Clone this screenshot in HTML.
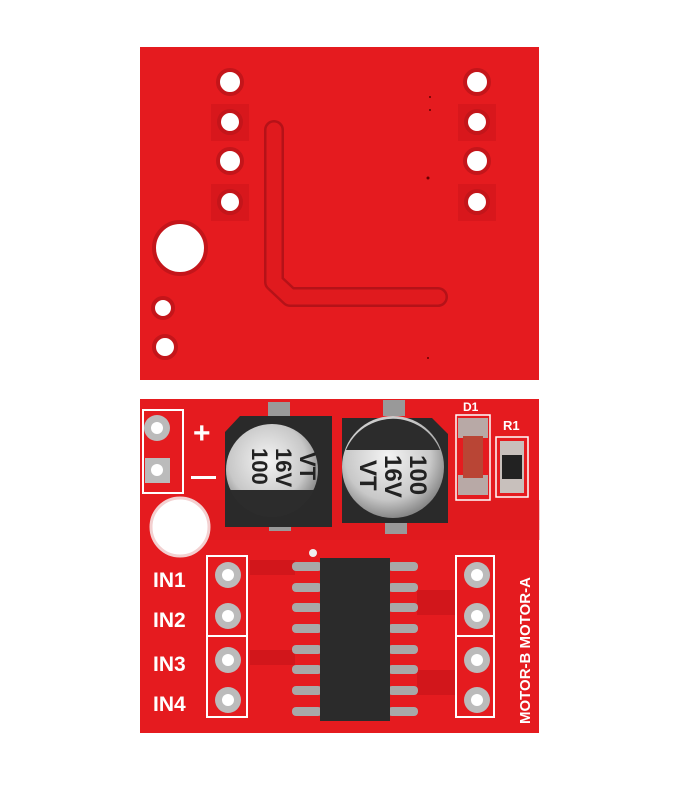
<!DOCTYPE html>
<html><head><meta charset="utf-8"><style>
html,body{margin:0;padding:0;background:#fff;width:700px;height:800px;overflow:hidden}
svg{display:block}
text{font-family:"Liberation Sans",sans-serif;font-weight:bold}
</style></head><body>
<svg width="700" height="800" viewBox="0 0 700 800" xmlns="http://www.w3.org/2000/svg">
<defs>
<radialGradient id="capg" cx="0.45" cy="0.4" r="0.6">
<stop offset="0" stop-color="#f4f4f4"/><stop offset="0.7" stop-color="#c8c8c8"/><stop offset="1" stop-color="#888"/>
</radialGradient>
</defs>
<!-- TOP BOARD -->
<rect x="140" y="47" width="399" height="333" fill="#e51b1f"/>
<g fill="#d8171c">
<rect x="211" y="104" width="38" height="37"/><rect x="211" y="184" width="38" height="37"/>
<rect x="458" y="104" width="38" height="37"/><rect x="458" y="184" width="38" height="37"/>
</g>
<g fill="#fff" stroke="#c4151a" stroke-width="4">
<circle cx="230" cy="82" r="12"/>
<circle cx="230" cy="122" r="11"/><circle cx="230" cy="161" r="12"/><circle cx="230" cy="202" r="11"/>
<circle cx="477" cy="82" r="12"/><circle cx="477" cy="122" r="11"/><circle cx="477" cy="161" r="12"/><circle cx="477" cy="202" r="11"/>
<circle cx="180" cy="248" r="26"/><circle cx="163" cy="308" r="10"/><circle cx="165" cy="347" r="11"/>
</g>
<path d="M274 130 L274 282 L290 297 L438 297" fill="none" stroke="#b51218" stroke-width="20" stroke-linecap="round" stroke-linejoin="round"/>
<path d="M274 130 L274 282 L290 297 L438 297" fill="none" stroke="#e01a1e" stroke-width="15" stroke-linecap="round" stroke-linejoin="round"/>
<g fill="#600"><circle cx="428" cy="178" r="1.5"/><circle cx="430" cy="97" r="1"/><circle cx="430" cy="110" r="1"/><circle cx="428" cy="358" r="1"/></g>

<!-- BOTTOM BOARD -->
<rect x="140" y="399" width="399" height="334" fill="#e51b1f"/>
<g fill="#d2161b">
<path d="M183 500 L540 500 L540 540 L183 540 Z" opacity="0.25"/>
<rect x="250" y="560" width="45" height="15"/><rect x="250" y="650" width="45" height="15"/>
<rect x="417" y="590" width="40" height="25"/><rect x="417" y="670" width="40" height="25"/>
</g>
<!-- +/- header -->
<rect x="143" y="410" width="40" height="83" fill="none" stroke="#fff" stroke-width="2"/>
<circle cx="157" cy="428" r="13" fill="#bbb"/><circle cx="157" cy="428" r="6" fill="#fff"/>
<rect x="145" y="458" width="25" height="25" fill="#bbb"/><circle cx="157" cy="470" r="6" fill="#fff"/>
<text x="193" y="443" font-size="30" fill="#fff" font-weight="normal">+</text>
<rect x="191" y="476" width="25" height="3" fill="#fff"/>
<!-- Cap1 -->
<rect x="268" y="402" width="22" height="16" fill="#999"/>
<rect x="269" y="517" width="22" height="14" fill="#999"/>
<path d="M240 416 L332 416 L332 527 L225 527 L225 432 Z" fill="#2a2a2a"/>
<circle cx="272" cy="470" r="46" fill="url(#capg)"/>
<path d="M230 490 A46 46 0 0 0 314 490 Z" fill="#2c2c2c"/>
<text transform="translate(300,452) rotate(90)" font-size="22" fill="#222" font-weight="normal">VT</text>
<text transform="translate(276,448) rotate(90)" font-size="22" fill="#222" font-weight="normal">16V</text>
<text transform="translate(252,448) rotate(90)" font-size="22" fill="#222" font-weight="normal">100</text>
<!-- Cap2 -->
<rect x="383" y="400" width="22" height="16" fill="#999"/>
<rect x="385" y="520" width="22" height="14" fill="#999"/>
<path d="M342 418 L432 418 L448 434 L448 523 L342 523 Z" fill="#2a2a2a"/>
<circle cx="393" cy="467" r="51" fill="url(#capg)"/>
<path d="M346 450 A51 51 0 0 1 440 450 Z" fill="#2c2c2c"/>
<text transform="translate(410,455) rotate(90)" font-size="24" fill="#222" font-weight="normal">100</text>
<text transform="translate(385,455) rotate(90)" font-size="24" fill="#222" font-weight="normal">16V</text>
<text transform="translate(360,460) rotate(90)" font-size="24" fill="#222" font-weight="normal">VT</text>
<!-- D1 -->
<text x="463" y="411" font-size="12" fill="#fff" font-weight="normal">D1</text>
<rect x="456" y="415" width="34" height="85" fill="none" stroke="#fff" stroke-width="1.5"/>
<rect x="458" y="418" width="30" height="20" fill="#b8a9a6"/>
<rect x="458" y="475" width="30" height="20" fill="#b8a9a6"/>
<rect x="463" y="436" width="20" height="42" fill="#b94535"/>
<!-- R1 -->
<text x="503" y="430" font-size="13" fill="#fff" font-weight="normal">R1</text>
<rect x="496" y="437" width="32" height="60" fill="none" stroke="#fff" stroke-width="1.5"/>
<rect x="500" y="441" width="24" height="52" fill="#c8c0bc"/>
<rect x="502" y="455" width="20" height="24" fill="#222"/>
<!-- big hole -->
<circle cx="180" cy="527" r="29" fill="#fff" stroke="#f3d0d0" stroke-width="3"/>
<!-- IN header -->
<rect x="207" y="556" width="40" height="161" fill="none" stroke="#fff" stroke-width="2"/>
<line x1="207" y1="636" x2="247" y2="636" stroke="#fff" stroke-width="2"/>
<g fill="#bbb"><circle cx="228" cy="575" r="13"/><circle cx="228" cy="616" r="13"/><circle cx="228" cy="660" r="13"/><circle cx="228" cy="700" r="13"/></g>
<g fill="#fff"><circle cx="228" cy="575" r="6"/><circle cx="228" cy="616" r="6"/><circle cx="228" cy="660" r="6"/><circle cx="228" cy="700" r="6"/></g>
<g font-size="21" fill="#fff">
<text x="153" y="587">IN1</text><text x="153" y="627">IN2</text><text x="153" y="671">IN3</text><text x="153" y="711">IN4</text>
</g>
<!-- IC -->
<circle cx="313" cy="553" r="4" fill="#eee"/>
<g fill="#a8a8a8">
<rect x="292" y="562" width="30" height="9" rx="4"/><rect x="292" y="583" width="30" height="9" rx="4"/>
<rect x="292" y="603" width="30" height="9" rx="4"/><rect x="292" y="624" width="30" height="9" rx="4"/>
<rect x="292" y="645" width="30" height="9" rx="4"/><rect x="292" y="665" width="30" height="9" rx="4"/>
<rect x="292" y="686" width="30" height="9" rx="4"/><rect x="292" y="707" width="30" height="9" rx="4"/>
<rect x="388" y="562" width="30" height="9" rx="4"/><rect x="388" y="583" width="30" height="9" rx="4"/>
<rect x="388" y="603" width="30" height="9" rx="4"/><rect x="388" y="624" width="30" height="9" rx="4"/>
<rect x="388" y="645" width="30" height="9" rx="4"/><rect x="388" y="665" width="30" height="9" rx="4"/>
<rect x="388" y="686" width="30" height="9" rx="4"/><rect x="388" y="707" width="30" height="9" rx="4"/>
</g>
<rect x="320" y="558" width="70" height="163" fill="#2b2b2b"/>
<!-- MOTOR header -->
<rect x="456" y="556" width="38" height="161" fill="none" stroke="#fff" stroke-width="2"/>
<line x1="456" y1="636" x2="494" y2="636" stroke="#fff" stroke-width="2"/>
<g fill="#bbb"><circle cx="477" cy="575" r="13"/><circle cx="477" cy="616" r="13"/><circle cx="477" cy="660" r="13"/><circle cx="477" cy="700" r="13"/></g>
<g fill="#fff"><circle cx="477" cy="575" r="6"/><circle cx="477" cy="616" r="6"/><circle cx="477" cy="660" r="6"/><circle cx="477" cy="700" r="6"/></g>
<text transform="translate(530,724) rotate(-90)" font-size="15" fill="#fff">MOTOR-B  MOTOR-A</text>
</svg>
</body></html>
